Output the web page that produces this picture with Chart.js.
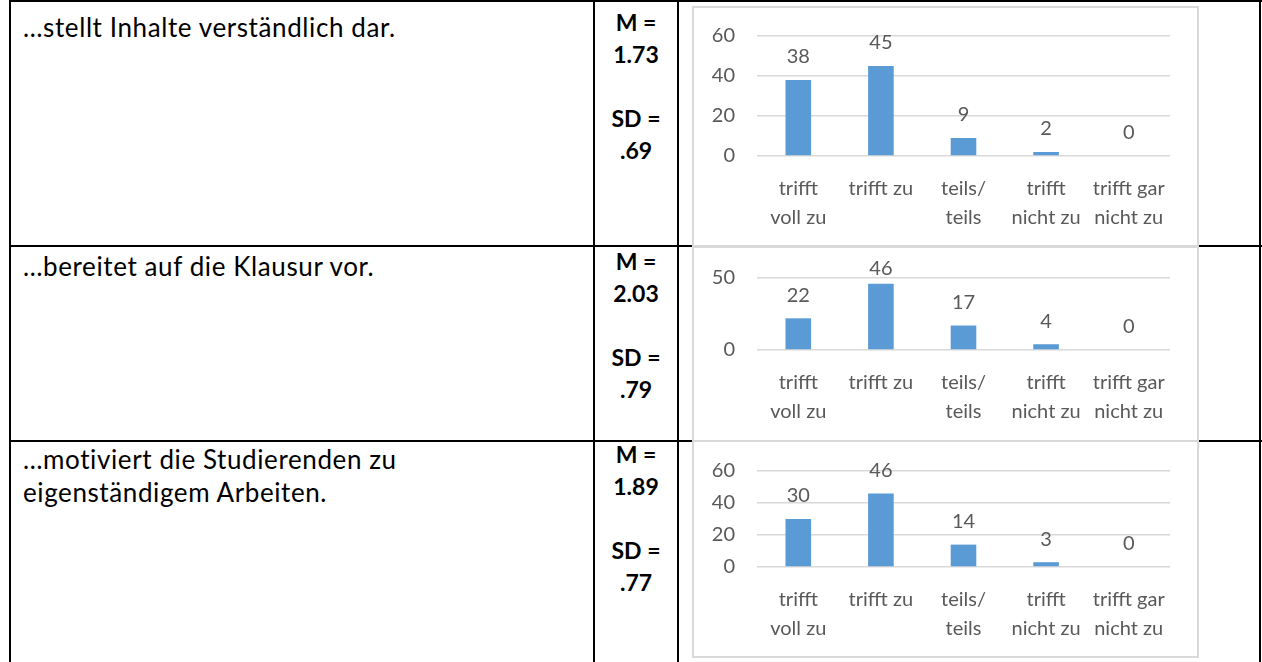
<!DOCTYPE html>
<html>
<head>
<meta charset="utf-8">
<script src="https://cdn.jsdelivr.net/npm/chart.js@4"></script>
<style>
  body { margin: 0; background: #fff; width: 1262px; height: 662px; overflow: hidden; position: relative; font-family: Lato, "Open Sans", sans-serif; }
  .line { position: absolute; background: #000; }
  .txt { position: absolute; left: 23px; width: 565px; font-size: 26px; letter-spacing: 0.6px; line-height: 33px; color: #000; white-space: nowrap; }
  .stat { position: absolute; left: 595px; width: 82px; text-align: center; font-size: 23px; font-weight: bold; line-height: 32px; color: #000; }
  .box { position: absolute; left: 692px; width: 503px; border: 2px solid #d9d9d9; background: #fff; }
  .box canvas { position: absolute; left: 0; top: 0; }
</style>
</head>
<body>
<div class="line" style="left:9px;top:0;width:1253px;height:2px"></div>
<div class="line" style="left:9px;top:245px;width:1253px;height:2px"></div>
<div class="line" style="left:9px;top:440px;width:1253px;height:2px"></div>
<div class="line" style="left:9px;top:0;width:2px;height:662px"></div>
<div class="line" style="left:593px;top:0;width:2px;height:662px"></div>
<div class="line" style="left:677px;top:0;width:2px;height:662px"></div>
<div class="line" style="left:1259px;top:0;width:2px;height:662px"></div>

<div id="rows"></div>

<script>
// Daten
var categories = [["trifft", "voll zu"], ["trifft zu"], ["teils/", "teils"], ["trifft", "nicht zu"], ["trifft gar", "nicht zu"]]
var statements = ["…stellt Inhalte verständlich dar.", "…bereitet auf die Klausur vor.", "…motiviert die Studierenden zu<br>eigenständigem Arbeiten."]
var means = ["1.73", "2.03", "1.89"]
var sds = [".69", ".79", ".77"]
var values1 = [38, 45, 9, 2, 0]
var values2 = [22, 46, 17, 4, 0]
var values3 = [30, 46, 14, 3, 0]
var yMax = [60, 50, 60]
var yStep = [20, 50, 20]

// Layout der Zeilen
var textTop = [11, 250, 443]
var statTop = [6, 245, 438]
var boxTop = [6, 246, 440]
var boxHeight = [237, 192, 214]
var padTop = [28, 30, 29]
var xHeight = [89, 90, 89]

var valueLabels = {
    id: 'valueLabels',
    afterDatasetsDraw: function (chart) {
        var ctx = chart.ctx
        var meta = chart.getDatasetMeta(0)
        var data = chart.data.datasets[0].data
        ctx.save()
        ctx.font = '20px Lato'
        ctx.fillStyle = '#595959'
        ctx.textAlign = 'center'
        ctx.textBaseline = 'middle'
        meta.data.forEach(function (bar, i) {
            var y = Math.max(bar.y - 23, 21)
            ctx.fillText(data[i], bar.x, y)
        })
        ctx.restore()
    }
}

function drawRow(i, values) {
    var rows = document.getElementById('rows')
    var t = document.createElement('div')
    t.className = 'txt'
    t.style.top = textTop[i] + 'px'
    t.innerHTML = statements[i]
    rows.appendChild(t)

    var s = document.createElement('div')
    s.className = 'stat'
    s.style.top = statTop[i] + 'px'
    s.innerHTML = 'M =<br>' + means[i] + '<br><br>SD =<br>' + sds[i]
    rows.appendChild(s)

    var box = document.createElement('div')
    box.className = 'box'
    box.style.top = boxTop[i] + 'px'
    box.style.height = boxHeight[i] + 'px'
    var canvas = document.createElement('canvas')
    canvas.width = 503
    canvas.height = boxHeight[i]
    box.appendChild(canvas)
    rows.appendChild(box)

    new Chart(canvas, {
        type: 'bar',
        data: {
            labels: categories,
            datasets: [{
                data: values,
                backgroundColor: '#5b9bd5',
                borderWidth: 0,
                categoryPercentage: 1,
                barPercentage: 0.31
            }]
        },
        options: {
            responsive: false,
            animation: false,
            devicePixelRatio: 1,
            layout: { padding: { top: padTop[i], right: 27, left: 0, bottom: 0 } },
            plugins: { legend: { display: false }, tooltip: { enabled: false } },
            scales: {
                x: {
                    grid: { display: false, drawTicks: false },
                    border: { display: false },
                    ticks: {
                        color: '#595959',
                        font: { family: 'Lato', size: 20, lineHeight: 1.45 },
                        padding: 18,
                        maxRotation: 0,
                        autoSkip: false
                    },
                    afterFit: function (scale) { scale.height = xHeight[i] }
                },
                y: {
                    min: 0,
                    max: yMax[i],
                    grid: { color: '#d9d9d9', lineWidth: 1.5, drawTicks: false },
                    border: { display: false },
                    ticks: {
                        stepSize: yStep[i],
                        color: '#595959',
                        // kleine lineHeight, damit die Achse oben keinen Extra-Platz reserviert
                        font: { family: 'Lato', size: 20, lineHeight: 0.5 },
                        padding: 22
                    },
                    afterFit: function (scale) { scale.width = 63 }
                }
            }
        },
        plugins: [valueLabels]
    })
}

drawRow(0, values1)
drawRow(1, values2)
drawRow(2, values3)
</script>
</body>
</html>
